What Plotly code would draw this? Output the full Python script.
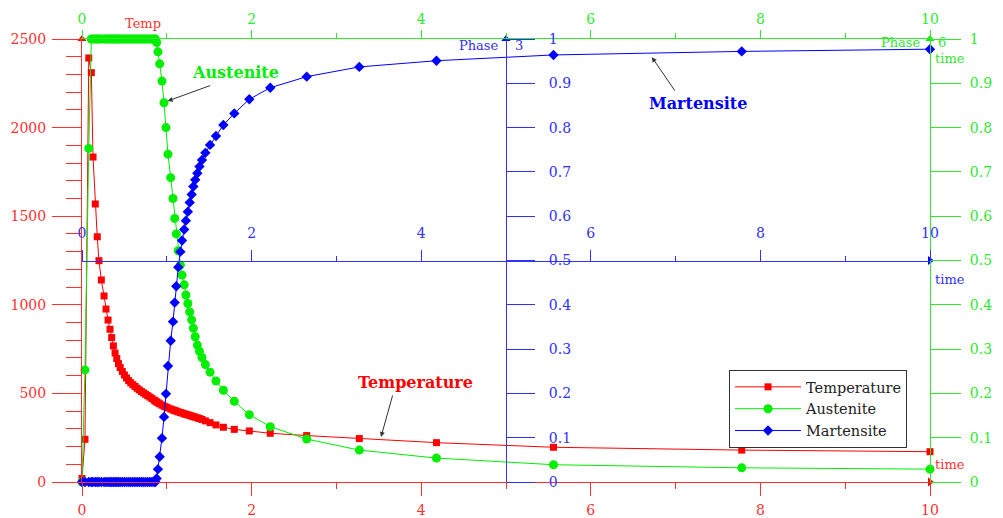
import plotly.graph_objects as go

# ---------------- data ----------------
time = [
    0, 0.035, 0.08, 0.11, 0.13, 0.157, 0.18, 0.2, 0.228, 0.26, 0.283, 0.307, 0.33, 0.35,
    0.37, 0.39, 0.41, 0.43, 0.45, 0.475, 0.5, 0.525, 0.55, 0.575, 0.6, 0.625, 0.65, 0.675,
    0.7, 0.725, 0.75, 0.775, 0.8, 0.825, 0.85, 0.865, 0.88,
    0.896, 0.916, 0.943, 0.967, 0.99, 1.014, 1.046, 1.073, 1.093, 1.112, 1.135, 1.16, 1.18,
    1.205, 1.225, 1.248, 1.27, 1.293, 1.313, 1.335, 1.36, 1.385, 1.415, 1.455, 1.51, 1.58,
    1.667, 1.796, 1.973, 2.22,
    2.65, 3.27, 4.18, 5.56, 7.78, 10,
]

temperature = [
    20, 241, 2393, 2310, 1834, 1569, 1384, 1249, 1140, 1050, 976, 914, 862, 815,
    768, 728, 697, 668, 646, 624, 604, 587, 572, 560, 549, 539, 529, 520,
    511, 503, 495, 487, 479, 471, 462, 457, 452,
    447, 441, 434, 428, 423, 418, 412, 407, 403, 400, 396, 392, 389,
    385, 382, 379, 376, 372, 369, 366, 362, 358, 353, 345, 335, 322,
    309, 297, 288, 275,
    262, 245, 222, 196, 180, 171,
]

austenite = [
    0, 0.253, 0.753, 1.0, 1.0, 1.0, 1.0, 1.0, 1.0, 1.0, 1.0, 1.0, 1.0, 1.0,
    1.0, 1.0, 1.0, 1.0, 1.0, 1.0, 1.0, 1.0, 1.0, 1.0, 1.0, 1.0, 1.0, 1.0,
    1.0, 1.0, 1.0, 1.0, 1.0, 1.0, 1.0, 1.0, 0.992,
    0.971, 0.944, 0.905, 0.856, 0.80, 0.74, 0.687, 0.64, 0.595, 0.56, 0.522, 0.49, 0.467,
    0.445, 0.422, 0.403, 0.384, 0.366, 0.347, 0.328, 0.309, 0.295, 0.281, 0.265, 0.248, 0.228,
    0.207, 0.182, 0.152, 0.125,
    0.097, 0.072, 0.054, 0.039, 0.032, 0.029,
]

martensite = [
    0, 0, 0, 0, 0, 0, 0, 0, 0, 0, 0, 0, 0, 0,
    0, 0, 0, 0, 0, 0, 0, 0, 0, 0, 0, 0, 0, 0,
    0, 0, 0, 0, 0, 0, 0, 0, 0.008,
    0.029, 0.057, 0.099, 0.147, 0.199, 0.262, 0.319, 0.362, 0.405, 0.442, 0.485, 0.52, 0.545,
    0.57, 0.59, 0.61, 0.631, 0.649, 0.667, 0.682, 0.697, 0.712, 0.727, 0.743, 0.761, 0.781,
    0.806, 0.832, 0.864, 0.89,
    0.915, 0.937, 0.951, 0.964, 0.972, 0.977,
]

time_ticks = [0, 2, 4, 6, 8, 10]
time_ticktext = ["0", "2", "4", "6", "8", "10"]
temp_ticks = [0, 500, 1000, 1500, 2000, 2500]
temp_ticktext = ["0", "500", "1000", "1500", "2000", "2500"]
phase_ticks = [0, 0.1, 0.2, 0.3, 0.4, 0.5, 0.6, 0.7, 0.8, 0.9, 1]
phase_ticktext = ["0", "0.1", "0.2", "0.3", "0.4", "0.5", "0.6", "0.7", "0.8", "0.9", "1"]

time_range = [0, 10]
temp_range = [0, 2500]
phase_range = [0, 1]

# ---------------- styling ----------------
RED = "#ff0000"
GREEN = "#00ee00"
BLUE = "#0000ff"
RED_AX = "#ff3030"
GREEN_AX = "#30e830"
BLUE_AX = "#3030ff"
FONT = "DejaVu Serif"


def tfont(c, s=14):
    return dict(family=FONT, size=s, color=c)


fig = go.Figure()

fig.add_trace(go.Scatter(
    x=time, y=temperature, name="Temperature", mode="lines+markers",
    line=dict(color=RED, width=1), marker=dict(symbol="square", size=7, color=RED),
    xaxis="x", yaxis="y", cliponaxis=False, hoverinfo="skip"))
fig.add_trace(go.Scatter(
    x=time, y=austenite, name="Austenite", mode="lines+markers",
    line=dict(color=GREEN, width=1), marker=dict(symbol="circle", size=9, color=GREEN),
    xaxis="x2", yaxis="y2", cliponaxis=False, hoverinfo="skip"))
fig.add_trace(go.Scatter(
    x=time, y=martensite, name="Martensite", mode="lines+markers",
    line=dict(color=BLUE, width=1), marker=dict(symbol="diamond", size=8, color=BLUE),
    xaxis="x3", yaxis="y3", cliponaxis=False, hoverinfo="skip"))

# axis-end arrowheads (decorations at the axis range ends)
def arrow_marker(x, y, sym, col, xa, ya):
    fig.add_trace(go.Scatter(
        x=[x], y=[y], mode="markers", showlegend=False, hoverinfo="skip",
        marker=dict(symbol=sym, size=8, color=col), xaxis=xa, yaxis=ya, cliponaxis=False))

arrow_marker(time_range[0], temp_range[1], "triangle-up", RED, "x", "y")
arrow_marker(time_range[1], temp_range[0], "triangle-right", RED, "x", "y")
arrow_marker(time_range[1], phase_range[1], "triangle-up", GREEN, "x2", "y2")
arrow_marker((time_range[0] + time_range[1]) / 2, phase_range[1], "triangle-up", BLUE, "x3", "y3")
arrow_marker(time_range[1], (phase_range[0] + phase_range[1]) / 2, "triangle-right", BLUE, "x3", "y3")

common = dict(showgrid=False, zeroline=False, showline=True, linewidth=1, ticks="outside",
              tickwidth=1, automargin=False)

# the page body adds an 8px offset, so the figure is 8px smaller and margins shifted
fig.update_layout(
    width=995, height=510,
    margin=dict(l=74, r=73, t=31, b=36),
    paper_bgcolor="white", plot_bgcolor="white",
    showlegend=True,
    xaxis=dict(range=time_range, tickvals=time_ticks, ticktext=time_ticktext,
               linecolor=RED_AX, tickcolor=RED_AX, ticklen=13, tickfont=tfont(RED_AX),
               minor=dict(dtick=1, tick0=0, ticklen=6, tickcolor=RED_AX, ticks="outside"),
               anchor="y", ticklabelstandoff=2, **common),
    yaxis=dict(range=temp_range, tickvals=temp_ticks, ticktext=temp_ticktext,
               linecolor=RED_AX, tickcolor=RED_AX, ticklen=29, tickfont=tfont(RED_AX),
               minor=dict(dtick=100, tick0=0, ticklen=15, tickcolor=RED_AX, ticks="outside"),
               anchor="x", ticklabelstandoff=3, **common),
    xaxis2=dict(range=time_range, tickvals=time_ticks, ticktext=time_ticktext,
                overlaying="x", side="top", anchor="y2",
                linecolor=GREEN_AX, tickcolor=GREEN_AX, ticklen=8, tickfont=tfont(GREEN_AX),
                minor=dict(dtick=1, tick0=0, ticklen=5, tickcolor=GREEN_AX, ticks="outside"),
                ticklabelstandoff=0, **common),
    yaxis2=dict(range=phase_range, tickvals=phase_ticks, ticktext=phase_ticktext,
                overlaying="y", side="right", anchor="x2",
                linecolor=GREEN_AX, tickcolor=GREEN_AX, ticklen=30, tickfont=tfont(GREEN_AX),
                ticklabelstandoff=6, **common),
    xaxis3=dict(range=time_range, tickvals=time_ticks, ticktext=time_ticktext,
                overlaying="x", side="top", anchor="free", position=0.5,
                linecolor=BLUE_AX, tickcolor=BLUE_AX, ticklen=11, tickfont=tfont(BLUE_AX),
                minor=dict(dtick=1, tick0=0, ticklen=5, tickcolor=BLUE_AX, ticks="outside"),
                ticklabelstandoff=6, **common),
    yaxis3=dict(range=phase_range, tickvals=phase_ticks, ticktext=phase_ticktext,
                overlaying="y", side="right", anchor="free", position=0.5,
                linecolor=BLUE_AX, tickcolor=BLUE_AX, ticklen=28, tickfont=tfont(BLUE_AX),
                ticklabelstandoff=11, **common),
    legend=dict(x=0.763, y=0.253, xanchor="left", yanchor="top",
                bgcolor="white", bordercolor="#333333", borderwidth=1,
                font=dict(family=FONT, size=14.5, color="#222222"),
                itemwidth=66, tracegroupgap=0),
)

ann = []
# axis titles
def label(text, x, y, col):
    ann.append(dict(text=text, x=x, y=y, xref="paper", yref="paper", showarrow=False,
                    xanchor="center", yanchor="middle", font=tfont(col, 13)))

label("Temp", 0.0719, 1.0339, RED_AX)
label("time", 1.0236, 0.0384, RED_AX)
label("Phase", 0.4682, 0.9842, BLUE_AX)
label("3", 0.5159, 0.9842, BLUE_AX)
label("time", 1.0236, 0.4582, BLUE_AX)
label("Phase", 0.9658, 0.993, GREEN_AX)
label("6", 1.0136, 0.993, GREEN_AX)
label("time", 1.0236, 0.957, GREEN_AX)

# series callouts
def callout(text, x, y, col):
    ann.append(dict(text="<b>" + text + "</b>", x=x, y=y, xref="paper", yref="paper",
                    showarrow=False, xanchor="center", yanchor="middle",
                    font=dict(family=FONT, size=16, color=col)))

def pointer(x, y, xr, yr, ax, ay):
    ann.append(dict(text="", x=x, y=y, xref=xr, yref=yr, ax=ax, ay=ay, showarrow=True,
                    arrowhead=2, arrowsize=1, arrowwidth=1, arrowcolor="#333333"))

callout("Austenite", 0.1816, 0.9255, GREEN)
pointer(1.01, 0.86, "x2", "y2", 44, -16)
callout("Martensite", 0.7264, 0.8533, BLUE)
pointer(6.72, 0.959, "x3", "y3", 24, 35)
callout("Temperature", 0.3927, 0.2235, RED)
pointer(3.526, 254, "x", "y", 12, -43)

fig.update_layout(annotations=ann)

fig.write_html("out.html")
